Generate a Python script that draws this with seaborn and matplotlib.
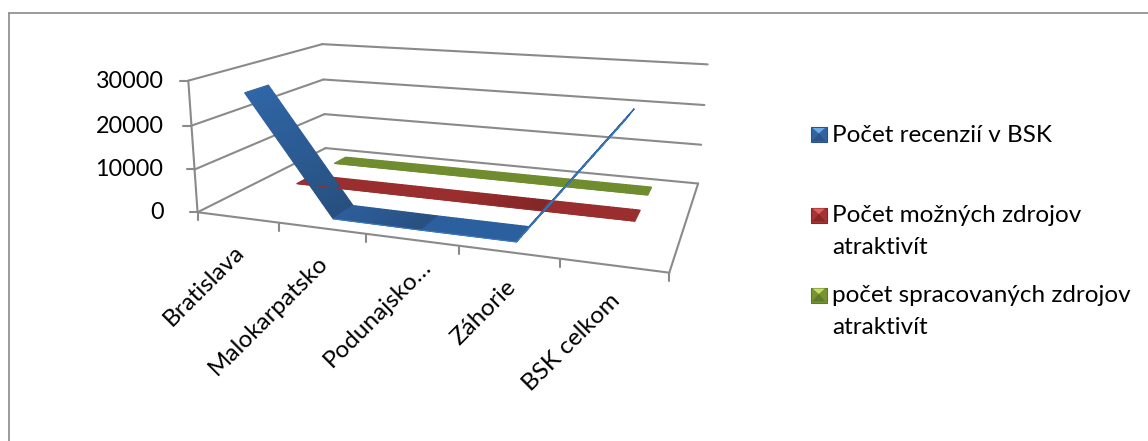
import numpy as np
import pandas as pd
import seaborn as sns
import matplotlib
matplotlib.use("Agg")
import matplotlib.pyplot as plt
from matplotlib.colors import to_rgb
from matplotlib.patches import Polygon

categories = ["Bratislava", "Malokarpatsko", "Podunajsko…", "Záhorie", "BSK celkom"]
series_names = ["Počet recenzií v BSK", "Počet možných zdrojov\natraktivít",
                "počet spracovaných zdrojov\natraktivít"]
recenzie = [27000, 300, 200, 200, 27500]
mozne = [300, 300, 300, 300, 300]
spracovane = [250, 250, 250, 250, 250]
y_ticks = [0, 10000, 20000, 30000]
y_max = 30000

# Camera calibration of the 3D box: (category share, depth share, height share) -> canvas pixel
box_corners = np.array([
    (0, 0, 0), (1, 0, 0), (1, 1, 0), (0, 1, 0),
    (0, 0, 1), (0, 1, 1), (1, 1, 1),
    (0, 1, 1/3), (0, 1, 2/3), (1, 1, 1/3), (1, 1, 2/3),
    (0, 0, 1/3), (0, 0, 2/3),
])
box_pixels = np.array([
    (197.7, 212.3), (669.3, 272.7), (698.3, 183.3), (325.5, 148.3),
    (188.3, 80.7), (322.3, 44.3), (707.7, 64.3),
    (324.4, 114.0), (323.6, 79.3), (701.0, 145.0), (704.3, 105.0),
    (194.5, 169.3), (191.4, 125.7),
])


def fit_camera(xyz, uv):
    rows, rhs = [], []
    for (x, y, z), (u, v) in zip(xyz, uv):
        rows.append([x, y, z, 1, 0, 0, 0, 0, -u*x, -u*y, -u*z])
        rhs.append(u)
        rows.append([0, 0, 0, 0, x, y, z, 1, -v*x, -v*y, -v*z])
        rhs.append(v)
    p = np.linalg.lstsq(np.array(rows), np.array(rhs), rcond=None)[0]
    return np.append(p, 1).reshape(3, 4)


camera = fit_camera(box_corners, box_pixels)


def project(t, d, z):
    t, d, z = np.broadcast_arrays(np.asarray(t, float), np.asarray(d, float), np.asarray(z, float))
    h = camera @ np.vstack([t.ravel(), d.ravel(), z.ravel(), np.ones(t.size)])
    return h[0] / h[2], h[1] / h[2]


sns.set_theme(style="white")
plt.rcParams["font.family"] = ["Lato", "DejaVu Sans"]
fig = plt.figure(figsize=(11.48, 4.41), dpi=100, facecolor="white")
ax = fig.add_axes([0, 0, 1, 1])
ax.set_xlim(0, 1148)
ax.set_ylim(441, 0)
ax.axis("off")

GRID = "#8a8a8a"
TEXT = "#000000"
FONT = 17.5
VALUE_FONT = 16.8


def box_line(p0, p1, lw=1.5):
    xs, ys = project(*np.array([p0, p1]).T)
    ax.plot(xs, ys, color=GRID, lw=lw, solid_capstyle="round", zorder=1)


# Chart area frame, open past the canvas on the right and at the bottom
ax.plot([8.5, 8.5], [441, 12.8], color=GRID, lw=1.2)
ax.plot([8.5, 1148], [12.8, 12.8], color=GRID, lw=1.2)

# Walls and floor
for v in y_ticks:
    z = v / y_max
    box_line((0, 0, z), (0, 1, z))
    box_line((0, 1, z), (1, 1, z))
    x, y = project(0, 0, z)
    ax.plot([x[0] - 8, x[0]], [y[0], y[0]], color=GRID, lw=1.5)
    ax.text(163.5, y[0] + 0.5, str(v), ha="right", va="center", fontsize=VALUE_FONT, color=TEXT)
box_line((0, 0, 0), (1, 0, 0))
box_line((1, 0, 0), (1, 1, 0))
box_line((0, 0, 0), (0, 0, 1))

# Category ticks and labels along the front floor edge
n = len(categories)
label_nudge = [(-4, 24), (-4, 24), (9, 16), (-4, 24), (-4, 24)]
for i in range(n + 1):
    x, y = project(i / n, 0, 0)
    ax.plot([x[0], x[0]], [y[0], y[0] + 8], color=GRID, lw=1.5)
for i, label in enumerate(categories):
    x, y = project((i + 0.5) / n, 0, 0)
    dx, dy = label_nudge[i]
    ax.text(x[0] + dx, y[0] + dy, label, rotation=45, rotation_mode="anchor", ha="right",
            va="top", fontsize=FONT, color=TEXT)

# Ribbons: (values, depth span, per-segment shading start/end, lit edge colour, first lit point)
ribbons = [
    (spracovane, (0.76, 0.87), [("#6f8c2f", "#6f8c2f")] * 4, "#6f8c2f", 0),
    (mozne, (0.43, 0.56), [("#9a2e2e", "#9a2e2e"), ("#9a2e2e", "#9a2e2e"),
                           ("#9a2e2e", "#822627"), ("#9a2e2e", "#9a2e2e")], "#9a2e2e", 0),
    (recenzie, (0.09, 0.25), [("#2f66a6", "#27507f"), ("#2d5e9b", "#28507f"),
                              ("#2c5f9e", "#2c5f9e"), ("#2f66a6", "#2f66a6")], "#3f7fc8", 1),
]
edge_rows = []
for order, (values, (d0, d1), shades, edge, first_lit) in enumerate(ribbons):
    zs = np.array(values) / y_max
    ts = (np.arange(n) + 0.5) / n
    for s, (c0, c1) in enumerate(shades):
        c0, c1 = np.array(to_rgb(c0)), np.array(to_rgb(c1))
        for k in range(24):
            a, b = k / 24, (k + 1) / 24
            ta, tb = ts[s] + a * (ts[s+1] - ts[s]), ts[s] + b * (ts[s+1] - ts[s])
            za, zb = zs[s] + a * (zs[s+1] - zs[s]), zs[s] + b * (zs[s+1] - zs[s])
            px, py = project([ta, tb, tb, ta], [d0, d0, d1, d1], [za, zb, zb, za])
            col = c0 + (c1 - c0) * (a + b) / 2
            ax.add_patch(Polygon(np.column_stack([px, py]), closed=True, fc=col, ec=col,
                                 lw=0.9, zorder=2 + order))
    ex, ey = project(ts[first_lit:], np.full(n - first_lit, d0), zs[first_lit:])
    edge_rows.append(pd.DataFrame({"px": ex, "py": ey, "series": order}))

# Lit front edge of every ribbon
edges = pd.concat(edge_rows, ignore_index=True)
sns.lineplot(data=edges, x="px", y="py", hue="series", units="series", estimator=None, sort=False,
             palette={i: r[3] for i, r in enumerate(ribbons)}, lw=0.6, legend=False, ax=ax, zorder=6)
ax.set_xlim(0, 1148)
ax.set_ylim(441, 0)

# Legend with bevelled square keys
legend_colors = [("#30649f", "#6fa8e8", "#2a5488"), ("#a53434", "#e0605c", "#862828"),
                 ("#76942f", "#c6de62", "#5f7a2c")]
legend_y = [134.5, 215, 295]
for name, (base, light, dark), y in zip(series_names, legend_colors, legend_y):
    x0, x1, y0, y1 = 811, 826.5, y - 7.5, y + 7.5
    mx, my = (x0 + x1) / 2, y - 1
    ax.add_patch(Polygon([(x0, y0), (x1, y0), (x1, y1), (x0, y1)], fc=base, ec=dark, lw=0.8, zorder=7))
    ax.add_patch(Polygon([(x0 + 1, y1 - 1), (x1 - 1, y1 - 1), (mx, my)], fc=dark, ec="none", zorder=8))
    ax.add_patch(Polygon([(x0 + 1.5, y0 + 1), (x1 - 1.5, y0 + 1), (mx, my)], fc=light, ec="none", zorder=8))
    ax.text(832.5, y + 0.5, name.split("\n")[0], ha="left", va="center", fontsize=FONT, color=TEXT)
    if "\n" in name:
        ax.text(832.5, y + 32.5, name.split("\n")[1], ha="left", va="center", fontsize=FONT, color=TEXT)

fig.savefig("out.png", dpi=100, facecolor="white")
